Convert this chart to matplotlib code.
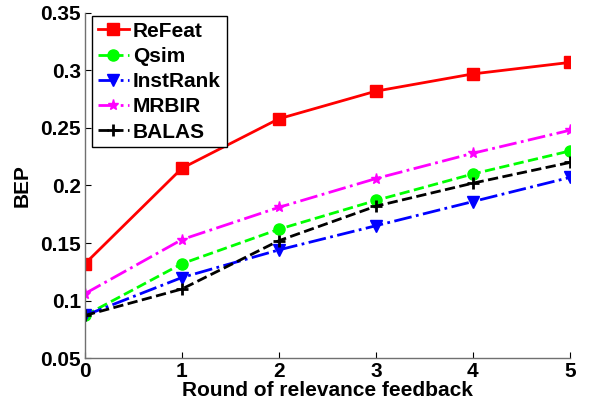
import numpy as np
import matplotlib.pyplot as plt

plt.rcParams["font.family"] = ["Liberation Sans", "DejaVu Sans"]
plt.rcParams["font.weight"] = "bold"

# BEP per round of relevance feedback
rounds = [0, 1, 2, 3, 4, 5]
refeat = [0.132, 0.215, 0.258, 0.282, 0.297, 0.307]
qsim = [0.087, 0.132, 0.162, 0.187, 0.210, 0.230]
instrank = [0.087, 0.120, 0.144, 0.165, 0.186, 0.207]
mrbir = [0.106, 0.153, 0.181, 0.206, 0.228, 0.248]
balas = [0.087, 0.110, 0.152, 0.182, 0.202, 0.220]

fig = plt.figure(figsize=(5.96, 4.05), dpi=100)
ax = fig.add_axes([0.1426, 0.116, 0.8134, 0.852])

lw = 2
ax.plot(rounds, refeat, "-s", color="red", lw=lw, ms=8, label="ReFeat")
ax.plot(rounds, qsim, "--o", color=(0, 1, 0), lw=lw, ms=8, label="Qsim")
ax.plot(rounds, instrank, "-.v", color="blue", lw=lw, ms=9, label="InstRank")
ax.plot(rounds, mrbir, "-.*", color="magenta", lw=lw, ms=8, label="MRBIR")
ax.plot(rounds, balas, "--+", color="black", lw=lw, ms=9, mew=2, label="BALAS")

ax.set_xlim(0, 5)
ax.set_ylim(0.05, 0.35)
ax.set_xticks(rounds)
yt = [0.05, 0.1, 0.15, 0.2, 0.25, 0.3, 0.35]
ax.set_yticks(yt)
ax.set_yticklabels(["0.05", "0.1", "0.15", "0.2", "0.25", "0.3", "0.35"])
ax.tick_params(direction="in", labelsize=15, length=4, colors="black", pad=3)

for s in ["top", "right"]:
    ax.spines[s].set_visible(False)
for s in ["left", "bottom"]:
    ax.spines[s].set_color("#707070")
    ax.spines[s].set_linewidth(1)

ax.set_xlabel("Round of relevance feedback", fontsize=15, fontweight="bold", labelpad=0)
ax.set_ylabel("BEP", fontsize=15, fontweight="bold", labelpad=6)

leg = ax.legend(loc="upper left", bbox_to_anchor=(0.0144, 0.991), borderaxespad=0,
                fontsize=15, handlelength=1.5, fancybox=False, framealpha=1,
                edgecolor="black", handletextpad=0.2, labelspacing=0.3,
                borderpad=0.27)
leg.get_frame().set_linewidth(1)

fig.savefig("out.png", dpi=100)
